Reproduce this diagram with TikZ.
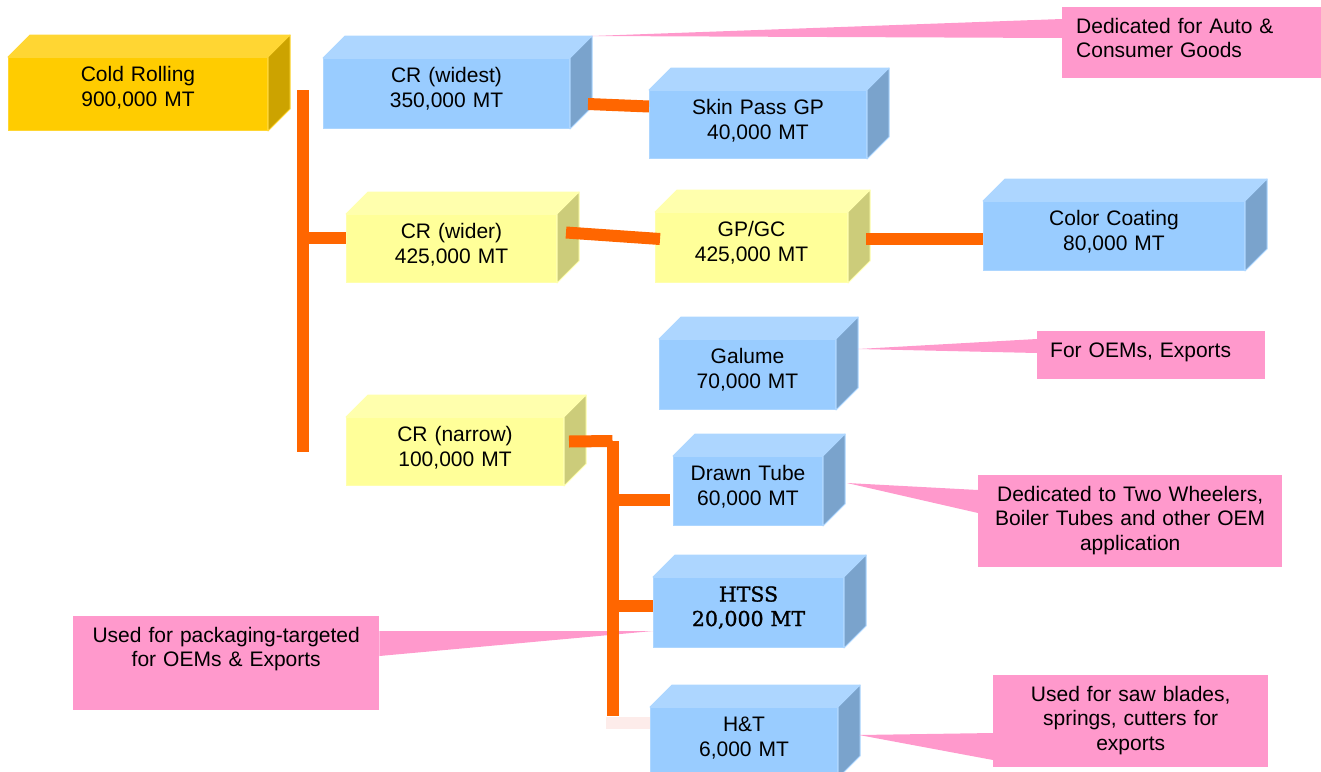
\documentclass[tikz,border=0pt]{standalone}
\usepackage{fontspec}
\setmainfont{Liberation Sans}
\newfontfamily\htssfont[FakeBold=1.2]{DejaVu Serif}

\definecolor{goldfront}{HTML}{FFCC00}
\definecolor{goldtop}{HTML}{FFD633}
\definecolor{goldside}{HTML}{CCA300}
\definecolor{bluefront}{HTML}{99CCFF}
\definecolor{bluetop}{HTML}{ADD6FF}
\definecolor{blueside}{HTML}{7AA3CC}
\definecolor{yelfront}{HTML}{FFFF99}
\definecolor{yeltop}{HTML}{FFFFAD}
\definecolor{yelside}{HTML}{CCCC7A}
\definecolor{notepink}{HTML}{FF99CC}
\definecolor{barorange}{HTML}{FF6600}
\definecolor{fadepink}{HTML}{FDECEA}

\newcommand{\boxfont}{\fontsize{21}{24.5}\selectfont}

% top and right faces of a box
\newcommand{\cubefaces}[3]{%
  \filldraw[draw=#2, fill=#2, line width=1pt, line join=round] (#1.north west) -- ([shift={(22pt,22pt)}]#1.north west)
    -- ([shift={(22pt,22pt)}]#1.north east) -- (#1.north east) -- cycle;
  \filldraw[draw=#2, fill=#3, line width=1pt, line join=round] (#1.north east) -- ([shift={(22pt,22pt)}]#1.north east)
    -- ([shift={(22pt,22pt)}]#1.south east) -- (#1.south east) -- cycle;
}

\begin{document}
\begin{tikzpicture}[x=1pt, y=-1pt,
    cube/.style 2 args={anchor=north west, inner sep=0pt, text width=#1, text height=24pt, text depth=#2,
      align=center, font=\boxfont, line width=1pt},
    gold/.style={fill=goldfront, draw=goldtop},
    blue/.style={fill=bluefront, draw=bluetop},
    yel/.style={fill=yelfront, draw=yeltop},
    note/.style 2 args={anchor=north west, fill=notepink, inner ysep=0pt, inner xsep=#1, text width=#2,
      text height=26pt, font=\boxfont},
    wedge/.style={fill=notepink},
    bar/.style={line width=12pt, barorange}]
        \useasboundingbox (0,0) rectangle (1321,771);
        \clip (0,0) rectangle (1321,771);
        % boxes
        \node[cube={259pt}{49pt}, gold] (cold) at (8,57) {Cold Rolling\\900,000 MT};
        \node[cube={246pt}{46pt}, blue] (widest) at (323,58) {CR (widest)\\350,000 MT};
        \node[cube={217pt}{44pt}, blue] (skin) at (649,90) {Skin Pass GP\\40,000 MT};
        \node[cube={210pt}{44pt}, yel] (wider) at (346,214) {CR (wider)\\425,000 MT};
        \node[cube={192pt}{46pt}, yel] (gpgc) at (655,212) {GP/GC\\425,000 MT};
        \node[cube={261pt}{45pt}, blue] (color) at (983,201) {Color Coating\\80,000 MT};
        \node[cube={176pt}{46pt}, blue] (galume) at (659,339) {Galume\\70,000 MT};
        \node[cube={217pt}{44pt}, yel] (narrow) at (346,417) {CR (narrow)\\100,000 MT};
        \node[cube={149pt}{45pt}, blue] (drawn) at (673,456) {Drawn Tube\\60,000 MT};
        \node[cube={190pt}{46pt}, blue, font=\htssfont\fontsize{20.5}{24.5}\selectfont] (htss) at (653,577) {HTSS\\20,000 MT};
        \node[cube={187pt}{46pt}, blue] (ht) at (650,707) {H\&T\\6,000 MT};
        \cubefaces{cold}{goldtop}{goldside}
        \cubefaces{widest}{bluetop}{blueside}
        \cubefaces{skin}{bluetop}{blueside}
        \cubefaces{wider}{yeltop}{yelside}
        \cubefaces{gpgc}{yeltop}{yelside}
        \cubefaces{color}{bluetop}{blueside}
        \cubefaces{galume}{bluetop}{blueside}
        \cubefaces{narrow}{yeltop}{yelside}
        \cubefaces{drawn}{bluetop}{blueside}
        \cubefaces{htss}{bluetop}{blueside}
        \cubefaces{ht}{bluetop}{blueside}
        % notes
        \node[note={14pt}{232pt}, align=left, text depth=45pt] (auto) at (1062,7) {Dedicated for Auto \&\\Consumer Goods};
        \node[note={13pt}{202pt}, align=left, text depth=22pt] (oems) at (1037,331) {For OEMs, Exports};
        \node[note={10pt}{284pt}, align=center, text depth=66pt] (wheelers) at (978,475) {Dedicated to Two Wheelers,\\Boiler Tubes and other OEM\\application};
        \node[note={10pt}{286pt}, align=center, text depth=68pt] (packaging) at (73,616) {Used for packaging-targeted\\for OEMs \& Exports};
        \node[note={10pt}{255pt}, align=center, text depth=66pt] (saw) at (993,675) {Used for saw blades,\\springs, cutters for\\exports};
        \fill[wedge] ([shift={(22pt,22pt)}]widest.north east) -- ([yshift=-12pt]auto.north west) -- ([yshift=-31pt]auto.north west) -- cycle;
        \fill[wedge] ([shift={(22pt,-10pt)}]galume.north east) -- ([yshift=-8pt]oems.north west) -- ([yshift=-22pt]oems.north west) -- cycle;
        \fill[wedge] ([shift={(24pt,-27pt)}]drawn.north east) -- ([yshift=-15pt]wheelers.north west) -- ([yshift=-38pt]wheelers.north west) -- cycle;
        \fill[wedge] ([yshift=-54pt]htss.north west) -- ([yshift=-15pt]packaging.north east) -- ([yshift=-40pt]packaging.north east) -- cycle;
        \fill[wedge] ([shift={(21pt,-28pt)}]ht.north east) -- ([yshift=-58pt]saw.north west) -- ([yshift=-85pt]saw.north west) -- cycle;
        % connectors
        \coordinate (trunktop) at (303,90);
        \coordinate (trunkend) at (303,452);
        \coordinate (fork) at (612.5,441);
        \coordinate (forkend) at (612.5,716);
        \coordinate (widerin) at ([yshift=11pt]wider.west);
        \coordinate (drawnin) at ([shift={(-3pt,-9pt)}]drawn.west);
        \coordinate (htssin) at ([yshift=7pt]htss.west);
        \draw[bar] (trunktop) -- (trunkend);
        \draw[bar] (trunktop |- widerin) -- (widerin);
        \draw[bar] ([shift={(18pt,-46pt)}]widest.north east) -- ([yshift=18pt]skin.west);
        \draw[bar] ([shift={(9pt,16pt)}]wider.east) -- ([shift={(5pt,8.5pt)}]gpgc.west);
        \draw[bar] ([shift={(18pt,8.5pt)}]gpgc.east) -- ([yshift=-3pt]color.west);
        \draw[bar] ([shift={(5pt,10pt)}]narrow.east) -- (fork);
        \draw[bar] (fork) -- (forkend);
        \draw[bar] (fork |- drawnin) -- (drawnin);
        \draw[bar] (fork |- htssin) -- (htssin);
        \draw[bar, fadepink] ([yshift=20pt]ht.west) -- ++(-44,0);
\end{tikzpicture}
\end{document}
